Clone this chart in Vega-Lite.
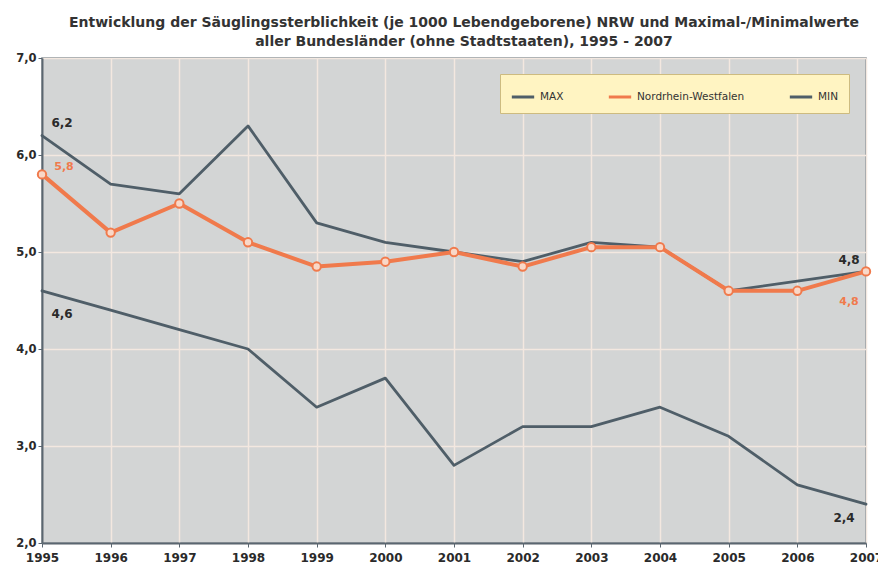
{
  "$schema": "https://vega.github.io/schema/vega-lite/v6.json",
  "width": 824,
  "height": 485,
  "autosize": {"type": "none"},
  "padding": {"left": 42, "top": 58, "right": 12, "bottom": 27},
  "background": "#ffffff",
  "config": {
    "locale": {"number": {"decimal": ",", "thousands": ".", "grouping": [3], "currency": ["", " €"]}},
    "view": {"fill": "#d3d5d5", "stroke": "#7a858d", "strokeWidth": 1.5},
    "font": "DejaVu Sans"
  },
  "title": {
    "text": ["Entwicklung der Säuglingssterblichkeit (je 1000 Lebendgeborene) NRW und Maximal-/Minimalwerte", "aller Bundesländer (ohne Stadtstaaten), 1995 - 2007"],
    "fontSize": 14,
    "fontWeight": "bold",
    "color": "#333333",
    "anchor": "middle",
    "dx": 10,
    "offset": 3,
    "lineHeight": 19
  },
  "data": {
    "values": [
      {"year": 1995, "series": "MAX", "value": 6.2},
      {"year": 1996, "series": "MAX", "value": 5.7},
      {"year": 1997, "series": "MAX", "value": 5.6},
      {"year": 1998, "series": "MAX", "value": 6.3},
      {"year": 1999, "series": "MAX", "value": 5.3},
      {"year": 2000, "series": "MAX", "value": 5.1},
      {"year": 2001, "series": "MAX", "value": 5.0},
      {"year": 2002, "series": "MAX", "value": 4.9},
      {"year": 2003, "series": "MAX", "value": 5.1},
      {"year": 2004, "series": "MAX", "value": 5.05},
      {"year": 2005, "series": "MAX", "value": 4.6},
      {"year": 2006, "series": "MAX", "value": 4.7},
      {"year": 2007, "series": "MAX", "value": 4.8},
      {"year": 1995, "series": "Nordrhein-Westfalen", "value": 5.8},
      {"year": 1996, "series": "Nordrhein-Westfalen", "value": 5.2},
      {"year": 1997, "series": "Nordrhein-Westfalen", "value": 5.5},
      {"year": 1998, "series": "Nordrhein-Westfalen", "value": 5.1},
      {"year": 1999, "series": "Nordrhein-Westfalen", "value": 4.85},
      {"year": 2000, "series": "Nordrhein-Westfalen", "value": 4.9},
      {"year": 2001, "series": "Nordrhein-Westfalen", "value": 5.0},
      {"year": 2002, "series": "Nordrhein-Westfalen", "value": 4.85},
      {"year": 2003, "series": "Nordrhein-Westfalen", "value": 5.05},
      {"year": 2004, "series": "Nordrhein-Westfalen", "value": 5.05},
      {"year": 2005, "series": "Nordrhein-Westfalen", "value": 4.6},
      {"year": 2006, "series": "Nordrhein-Westfalen", "value": 4.6},
      {"year": 2007, "series": "Nordrhein-Westfalen", "value": 4.8},
      {"year": 1995, "series": "MIN", "value": 4.6},
      {"year": 1996, "series": "MIN", "value": 4.4},
      {"year": 1997, "series": "MIN", "value": 4.2},
      {"year": 1998, "series": "MIN", "value": 4.0},
      {"year": 1999, "series": "MIN", "value": 3.4},
      {"year": 2000, "series": "MIN", "value": 3.7},
      {"year": 2001, "series": "MIN", "value": 2.8},
      {"year": 2002, "series": "MIN", "value": 3.2},
      {"year": 2003, "series": "MIN", "value": 3.2},
      {"year": 2004, "series": "MIN", "value": 3.4},
      {"year": 2005, "series": "MIN", "value": 3.1},
      {"year": 2006, "series": "MIN", "value": 2.6},
      {"year": 2007, "series": "MIN", "value": 2.4}
    ]
  },
  "encoding": {
    "x": {
      "field": "year", "type": "quantitative",
      "scale": {"domain": [1995, 2007], "nice": false, "zero": false},
      "axis": {
        "title": null, "format": "d",
        "values": [1995,1996,1997,1998,1999,2000,2001,2002,2003,2004,2005,2006,2007],
        "grid": true, "gridColor": "#f3e8e0", "gridWidth": 1.5, "gridOpacity": 1,
        "domainColor": "#5a6670", "domainWidth": 2,
        "tickColor": "#5a6670", "tickSize": 4,
        "labelFont": "DejaVu Sans", "labelFontWeight": "bold", "labelFontSize": 12,
        "labelColor": "#2a2a2a", "labelPadding": 5, "labelFlush": false, "labelOverlap": false
      }
    },
    "y": {
      "field": "value", "type": "quantitative",
      "scale": {"domain": [2, 7], "nice": false, "zero": false},
      "axis": {
        "title": null, "format": ".1f", "values": [2, 3, 4, 5, 6, 7],
        "grid": true, "gridColor": "#f3e8e0", "gridWidth": 1.5, "gridOpacity": 1,
        "domainColor": "#5a6670", "domainWidth": 2,
        "tickColor": "#5a6670", "tickSize": 4,
        "labelFont": "DejaVu Sans", "labelFontWeight": "bold", "labelFontSize": 11.5,
        "labelColor": "#2a2a2a", "labelPadding": 2
      }
    },
    "color": {
      "field": "series", "type": "nominal",
      "scale": {"domain": ["MAX", "Nordrhein-Westfalen", "MIN"], "range": ["#4f5e68", "#f07a4c", "#4f5e68"]},
      "legend": {
        "title": null, "orient": "none", "direction": "horizontal",
        "legendX": 458, "legendY": 16,
        "fillColor": "#fff4c2", "strokeColor": "#cdbb80",
        "padding": 10, "columnPadding": 38,
        "symbolType": "stroke", "symbolStrokeWidth": 3, "symbolSize": 500,
        "labelFont": "DejaVu Sans", "labelFontSize": 10.5, "labelColor": "#333333",
        "labelLimit": 220
      }
    }
  },
  "layer": [
    {
      "transform": [{"filter": "datum.series != 'Nordrhein-Westfalen'"}],
      "mark": {"type": "line", "strokeWidth": 2.8, "strokeCap": "round", "strokeJoin": "round"},
      "encoding": {"detail": {"field": "series"}}
    },
    {
      "transform": [{"filter": "datum.series == 'Nordrhein-Westfalen'"}],
      "mark": {"type": "line", "strokeWidth": 4, "strokeCap": "round", "strokeJoin": "round"},
      "encoding": {}
    },
    {
      "transform": [{"filter": "datum.series == 'Nordrhein-Westfalen'"}],
      "mark": {"type": "point", "shape": "circle", "size": 70, "filled": true, "fill": "#f9d8c8", "stroke": "#f07a4c", "strokeWidth": 2, "opacity": 1},
      "encoding": {"color": {"value": "#f07a4c"}}
    },
    {
      "transform": [{"filter": "datum.series == 'MAX' && datum.year == 1995"}],
      "mark": {"type": "text", "dx": 20, "dy": -13, "fontWeight": "bold", "fontSize": 12},
      "encoding": {"text": {"field": "value", "type": "quantitative", "format": ".1f"}, "color": {"value": "#2a2a2a"}}
    },
    {
      "transform": [{"filter": "datum.series == 'Nordrhein-Westfalen' && datum.year == 1995"}],
      "mark": {"type": "text", "dx": 22, "dy": -7, "fontWeight": "bold", "fontSize": 11},
      "encoding": {"text": {"field": "value", "type": "quantitative", "format": ".1f"}, "color": {"value": "#f07a4c"}}
    },
    {
      "transform": [{"filter": "datum.series == 'MIN' && datum.year == 1995"}],
      "mark": {"type": "text", "dx": 20, "dy": 23, "fontWeight": "bold", "fontSize": 12},
      "encoding": {"text": {"field": "value", "type": "quantitative", "format": ".1f"}, "color": {"value": "#2a2a2a"}}
    },
    {
      "transform": [{"filter": "datum.series == 'MAX' && datum.year == 2007"}],
      "mark": {"type": "text", "dx": -17, "dy": -11, "fontWeight": "bold", "fontSize": 12},
      "encoding": {"text": {"field": "value", "type": "quantitative", "format": ".1f"}, "color": {"value": "#2a2a2a"}}
    },
    {
      "transform": [{"filter": "datum.series == 'Nordrhein-Westfalen' && datum.year == 2007"}],
      "mark": {"type": "text", "dx": -17, "dy": 31, "fontWeight": "bold", "fontSize": 11},
      "encoding": {"text": {"field": "value", "type": "quantitative", "format": ".1f"}, "color": {"value": "#f07a4c"}}
    },
    {
      "transform": [{"filter": "datum.series == 'MIN' && datum.year == 2007"}],
      "mark": {"type": "text", "dx": -22, "dy": 14, "fontWeight": "bold", "fontSize": 12},
      "encoding": {"text": {"field": "value", "type": "quantitative", "format": ".1f"}, "color": {"value": "#2a2a2a"}}
    }
  ]
}
